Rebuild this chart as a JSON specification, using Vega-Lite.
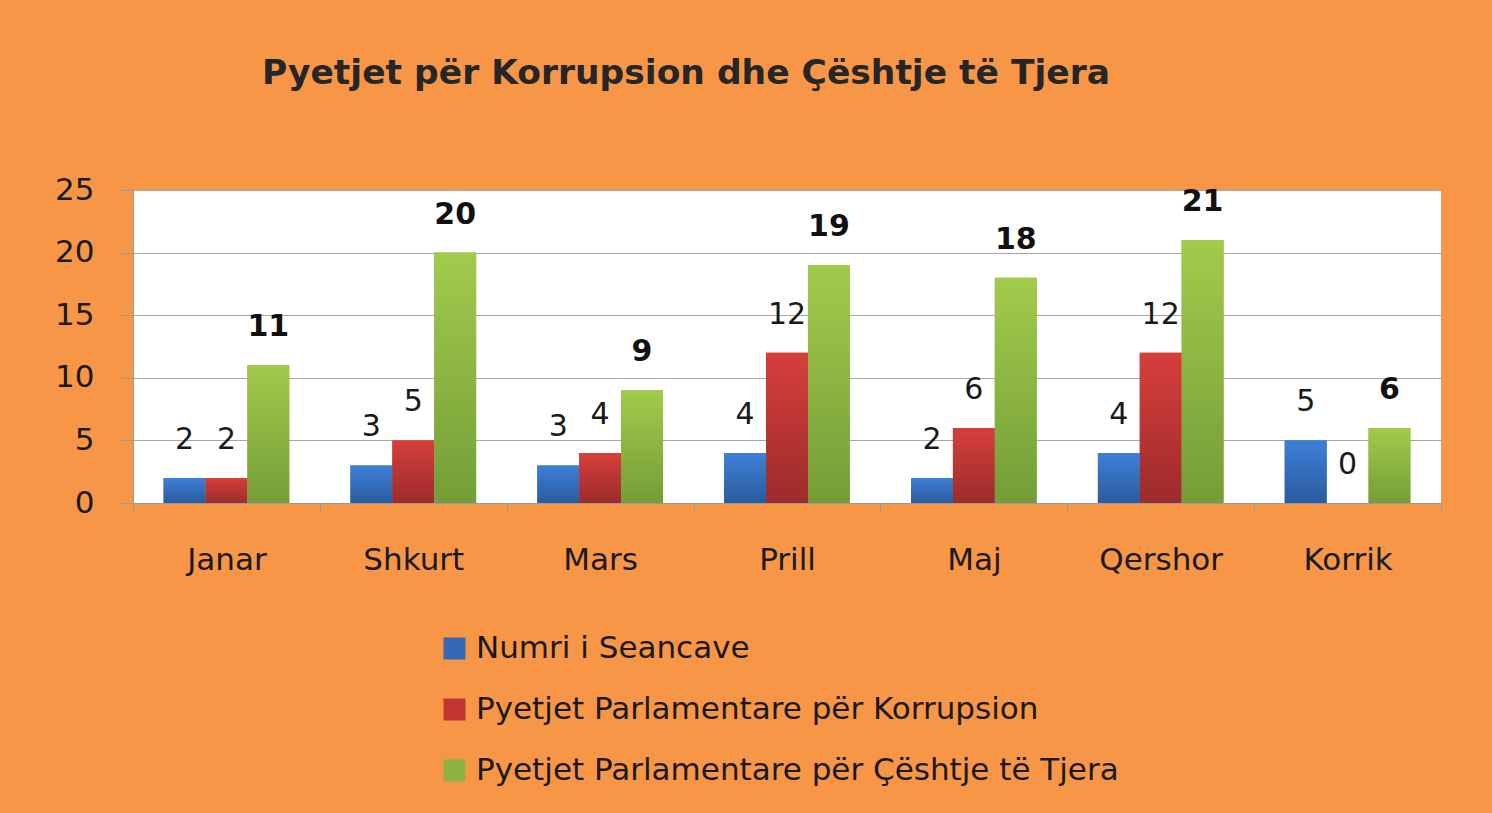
{
  "$schema": "https://vega.github.io/schema/vega-lite/v6.json",
  "width": 1308,
  "height": 313,
  "autosize": "none",
  "padding": {"left": 133, "top": 190, "right": 51, "bottom": 310},
  "background": "#F79646",
  "config": {
    "view": {"fill": "white", "stroke": null},
    "font": "DejaVu Sans"
  },
  "title": {
    "text": "Pyetjet për Korrupsion dhe Çështje të Tjera",
    "fontSize": 34.5,
    "fontWeight": "bold",
    "color": "#262626",
    "anchor": "start",
    "frame": "group",
    "dx": 129,
    "offset": 83
  },
  "data": {
    "values": [
      {"month": "Janar", "series": "Numri i Seancave", "v": 2},
      {"month": "Janar", "series": "Pyetjet Parlamentare për Korrupsion", "v": 2},
      {"month": "Janar", "series": "Pyetjet Parlamentare për Çështje të Tjera", "v": 11},
      {"month": "Shkurt", "series": "Numri i Seancave", "v": 3},
      {"month": "Shkurt", "series": "Pyetjet Parlamentare për Korrupsion", "v": 5},
      {"month": "Shkurt", "series": "Pyetjet Parlamentare për Çështje të Tjera", "v": 20},
      {"month": "Mars", "series": "Numri i Seancave", "v": 3},
      {"month": "Mars", "series": "Pyetjet Parlamentare për Korrupsion", "v": 4},
      {"month": "Mars", "series": "Pyetjet Parlamentare për Çështje të Tjera", "v": 9},
      {"month": "Prill", "series": "Numri i Seancave", "v": 4},
      {"month": "Prill", "series": "Pyetjet Parlamentare për Korrupsion", "v": 12},
      {"month": "Prill", "series": "Pyetjet Parlamentare për Çështje të Tjera", "v": 19},
      {"month": "Maj", "series": "Numri i Seancave", "v": 2},
      {"month": "Maj", "series": "Pyetjet Parlamentare për Korrupsion", "v": 6},
      {"month": "Maj", "series": "Pyetjet Parlamentare për Çështje të Tjera", "v": 18},
      {"month": "Qershor", "series": "Numri i Seancave", "v": 4},
      {"month": "Qershor", "series": "Pyetjet Parlamentare për Korrupsion", "v": 12},
      {"month": "Qershor", "series": "Pyetjet Parlamentare për Çështje të Tjera", "v": 21},
      {"month": "Korrik", "series": "Numri i Seancave", "v": 5},
      {"month": "Korrik", "series": "Pyetjet Parlamentare për Korrupsion", "v": 0},
      {"month": "Korrik", "series": "Pyetjet Parlamentare për Çështje të Tjera", "v": 6}
    ]
  },
  "encoding": {
    "x": {
      "field": "month",
      "type": "nominal",
      "sort": ["Janar", "Shkurt", "Mars", "Prill", "Maj", "Qershor", "Korrik"],
      "scale": {"paddingInner": 0, "paddingOuter": 0},
      "axis": {
        "title": null,
        "labelAngle": 0,
        "labelFontSize": 31,
        "labelColor": "#1a1a1a",
        "tickBand": "extent",
        "tickSize": 9,
        "tickColor": "#9a9a9a",
        "domainColor": "#9a9a9a",
        "labelPadding": 33,
        "grid": false
      }
    },
    "xOffset": {
      "field": "series",
      "type": "nominal",
      "sort": ["Numri i Seancave", "Pyetjet Parlamentare për Korrupsion", "Pyetjet Parlamentare për Çështje të Tjera"],
      "scale": {"paddingInner": 0, "paddingOuter": 0.73}
    },
    "y": {
      "field": "v",
      "type": "quantitative",
      "scale": {"domain": [0, 25], "nice": false},
      "axis": {
        "title": null,
        "values": [0, 5, 10, 15, 20, 25],
        "grid": true,
        "gridColor": "#a6a6a6",
        "tickSize": 13,
        "tickColor": "#9a9a9a",
        "domainColor": "#9a9a9a",
        "labelPadding": 26,
        "labelFontSize": 31,
        "labelColor": "#1a1a1a"
      }
    }
  },
  "layer": [
    {
      "mark": {"type": "bar"},
      "encoding": {
        "color": {
          "field": "series",
          "type": "nominal",
          "scale": {
            "domain": ["Numri i Seancave", "Pyetjet Parlamentare për Korrupsion", "Pyetjet Parlamentare për Çështje të Tjera"],
            "range": ["#3568B5", "#BE3532", "#8BB443"]
          },
          "legend": {
            "title": null,
            "orient": "none",
            "legendX": 306,
            "legendY": 443,
            "direction": "vertical",
            "symbolType": "square",
            "symbolSize": 484,
            "symbolStrokeWidth": 0,
            "labelFontSize": 31,
            "labelColor": "#1a1a1a",
            "labelLimit": 1000,
            "rowPadding": 29,
            "labelOffset": 6
          }
        }
      }
    },
    {
      "transform": [{"filter": "datum.series === 'Numri i Seancave'"}],
      "mark": {"type": "bar", "color": {"gradient": "linear", "x1": 0, "y1": 0, "x2": 0, "y2": 1, "stops": [{"offset": 0, "color": "#3D80D8"}, {"offset": 1, "color": "#2B5B9C"}]}}
    },
    {
      "transform": [{"filter": "datum.series === 'Pyetjet Parlamentare për Korrupsion'"}],
      "mark": {"type": "bar", "color": {"gradient": "linear", "x1": 0, "y1": 0, "x2": 0, "y2": 1, "stops": [{"offset": 0, "color": "#D63F3B"}, {"offset": 1, "color": "#9C2B2B"}]}}
    },
    {
      "transform": [{"filter": "datum.series === 'Pyetjet Parlamentare për Çështje të Tjera'"}],
      "mark": {"type": "bar", "color": {"gradient": "linear", "x1": 0, "y1": 0, "x2": 0, "y2": 1, "stops": [{"offset": 0, "color": "#A2CB4C"}, {"offset": 1, "color": "#749D38"}]}}
    },
    {
      "transform": [{"filter": "datum.series !== 'Pyetjet Parlamentare për Çështje të Tjera'"}],
      "mark": {"type": "text", "baseline": "middle", "align": "center", "dy": -38, "fontSize": 30, "color": "#1a1a1a"},
      "encoding": {"text": {"field": "v", "type": "quantitative"}}
    },
    {
      "transform": [{"filter": "datum.series === 'Pyetjet Parlamentare për Çështje të Tjera'"}],
      "mark": {"type": "text", "baseline": "middle", "align": "center", "dy": -38, "fontSize": 30, "fontWeight": "bold", "color": "#111111"},
      "encoding": {"text": {"field": "v", "type": "quantitative"}}
    }
  ]
}
